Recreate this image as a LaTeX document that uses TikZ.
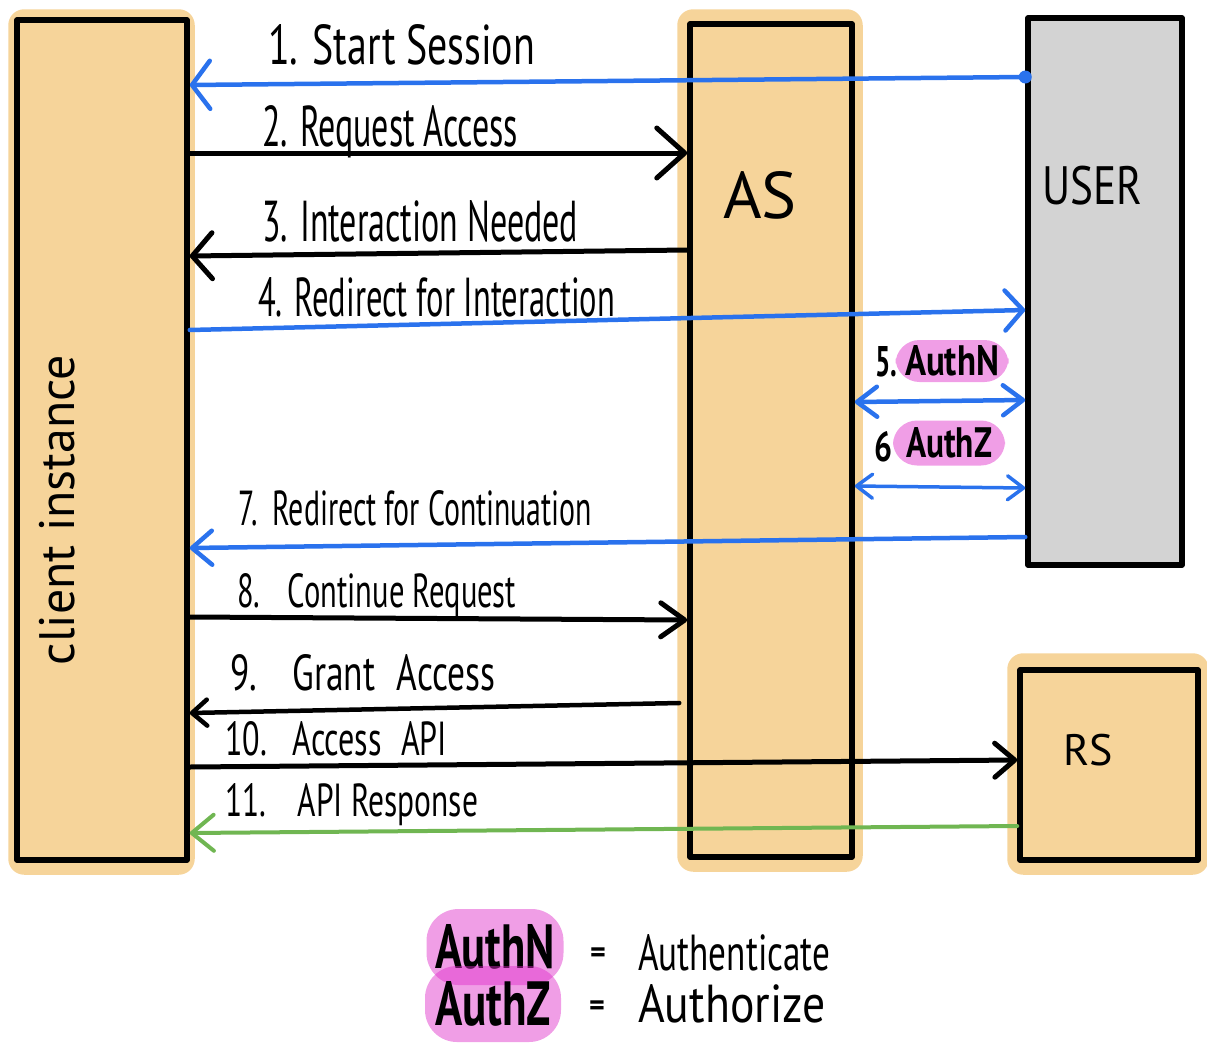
\documentclass[tikz,border=0pt]{standalone}
\usepackage{fontspec}
\setmainfont{PT Sans}
\usepackage{graphicx}
\usetikzlibrary{arrows.meta,backgrounds}

\definecolor{boxorange}{RGB}{246,212,154}
\definecolor{usergray}{RGB}{211,211,211}
\definecolor{flowblue}{RGB}{42,114,237}
\definecolor{flowgreen}{RGB}{112,182,82}
\definecolor{markpink}{RGB}{222,40,200}

% scale a label to a given width, with a common strut
\newcommand{\fitw}[2]{\resizebox{#1}{!}{#2\vphantom{Ap}}}
% scale a label to a given width and total height
\newcommand{\fitwh}[3]{\resizebox{#1}{#2}{#3\vphantom{Ap}}}
% scale a word without descenders to a given width and height
\newcommand{\fitcap}[3]{\resizebox{#1}{#2}{#3}}

\tikzset{
  box/.style={draw=black, line width=5.5pt, rectangle, inner sep=0pt, line join=round},
  halo/.style={fill=boxorange, rounded corners=16pt},
  msg/.style={line width=5pt, line cap=round, line join=round},
  blackmsg/.style={msg, draw=black},
  bluemsg/.style={msg, draw=flowblue, line width=4.5pt},
  greenmsg/.style={msg, draw=flowgreen, line width=4pt},
  barb/.style 2 args={-{Straight Barb[length=#1pt,width=#2pt,round]}},
  dbarb/.style 2 args={{Straight Barb[length=#1pt,width=#2pt,round]}-{Straight Barb[length=#1pt,width=#2pt,round]}},
  lbl/.style={inner sep=0pt, anchor=west, font=\fontsize{40}{44}\selectfont},
  boxlbl/.style={inner sep=0pt},
  blob/.style={fill=markpink, fill opacity=0.45, text opacity=1, rounded corners=24pt, inner sep=0pt},
}

\begin{document}
\begin{tikzpicture}[x=1pt,y=-1pt]
\useasboundingbox (0,0) rectangle (1207,1044);

% parties
\node[box, fill=boxorange, minimum width=170pt, minimum height=840pt] (client) at (102,440) {};
\node[box, fill=boxorange, minimum width=162pt, minimum height=833pt] (as) at (771,440.5) {};
\node[box, fill=usergray, minimum width=154pt, minimum height=547pt] (user) at (1105,291.5) {};
\node[box, fill=boxorange, minimum width=178pt, minimum height=190pt] (rs) at (1109,765) {};

\begin{scope}[on background layer]
  \fill[halo] ([shift={(-6,-8)}]client.north west) rectangle ([shift={(5,12)}]client.south east);
  \fill[halo] ([shift={(-10,-12)}]as.north west) rectangle ([shift={(8,12)}]as.south east);
  \fill[halo] ([shift={(-10,-14)}]rs.north west) rectangle ([shift={(8,12)}]rs.south east);
\end{scope}

% party names
\node[boxlbl, rotate=90] (clientname) at (62,510) {\fitw{310pt}{\fontsize{40}{44}\selectfont client instance}};
\node[boxlbl] (asname) at (760,195) {\fontsize{66}{70}\selectfont AS};
\node[boxlbl] (username) at (1092,186) {\scalebox{0.8}[1]{\fontsize{54}{58}\selectfont USER}};
\node[boxlbl] (rsname) at (1088,750) {\fontsize{44}{48}\selectfont RS};

% messages
\fill[flowblue] (user.west |- 0,77) circle (6.5pt);
\draw[bluemsg, barb={18}{48}] (user.west |- 0,77) -- (client.east |- 0,85);
\draw[blackmsg, barb={28}{50}] (client.east |- 0,153) -- (as.west |- 0,153);
\draw[blackmsg, barb={20}{46}] (as.west |- 0,250) -- (client.east |- 0,256);
\draw[bluemsg, barb={18}{40}] (client.east |- 0,330) -- (user.west |- 0,310);
\draw[bluemsg, dbarb={20}{30}] (as.east |- 0,402) -- (user.west |- 0,400);
\draw[bluemsg, line width=3.5pt, dbarb={16}{24}] (as.east |- 0,486) -- (user.west |- 0,488);
\draw[bluemsg, barb={20}{34}] (user.west |- 0,537) -- (client.east |- 0,548);
\draw[blackmsg, barb={24}{34}] (client.east |- 0,617) -- (as.west |- 0,620);
\draw[blackmsg, line width=4.5pt, barb={15}{26}] ([xshift=-8pt]as.west |- 0,703) -- (client.east |- 0,713);
\draw[blackmsg, barb={20}{34}] (client.east |- 0,767) -- (rs.west |- 0,760);
\draw[greenmsg, barb={22}{36}] (rs.west |- 0,826) -- (client.east |- 0,833);

% message labels
\node[lbl] (m1) at (268,50) {\fitwh{267pt}{40pt}{1. Start Session}};
\node[lbl] (m2) at (262,132) {\fitwh{256pt}{41pt}{2. Request Access}};
\node[lbl] (m3) at (262,227) {\fitwh{316pt}{41pt}{3. Interaction Needed}};
\node[lbl] (m4) at (258,302) {\fitwh{357pt}{39pt}{4. Redirect for Interaction}};
\node[lbl] (m7) at (238,513) {\fitwh{354pt}{35pt}{7.\hspace{0.5em}Redirect for Continuation}};
\node[lbl] (m8) at (237,595) {\fitwh{279pt}{34pt}{8.\hspace{0.9em}Continue Request}};
\node[lbl] (m9) at (230,678) {\fitwh{265pt}{36pt}{9.\hspace{1em}Grant\hspace{0.6em}Access}};
\node[lbl] (m10) at (225,743) {\fitwh{222pt}{34pt}{10.\hspace{0.8em}Access\hspace{0.6em}API}};
\node[lbl] (m11) at (225,805) {\fitwh{253pt}{33pt}{11.\hspace{1em}API Response}};

% authentication / authorization steps
\node[lbl] (m5) at (875,362) {\fitcap{22pt}{30pt}{\bfseries 5.}};
\node[blob, minimum width=113pt, minimum height=42pt] (m5tag) at (952,361) {\fitcap{94pt}{30pt}{\bfseries AuthN}};
\node[lbl] (m6) at (874,447) {\fitcap{18pt}{30pt}{\bfseries 6}};
\node[blob, minimum width=112pt, minimum height=45pt] (m6tag) at (949,443) {\fitcap{86pt}{30pt}{\bfseries AuthZ}};

% legend
\node[blob, minimum width=137pt, minimum height=76pt, rounded corners=32pt] (keyn) at (495,947) {\fitcap{120pt}{44pt}{\bfseries AuthN}};
\node[blob, minimum width=136pt, minimum height=76pt, rounded corners=32pt] (keyz) at (493,1004) {\fitcap{116pt}{44pt}{\bfseries AuthZ}};
\node[boxlbl] (eqn) at (598,955) {\fontsize{30}{34}\selectfont\bfseries =};
\node[boxlbl] (eqz) at (597,1008) {\fontsize{30}{34}\selectfont\bfseries =};
\node[lbl] (keyntext) at (638,953) {\fitcap{192pt}{36pt}{Authenticate}};
\node[lbl] (keyztext) at (638,1004) {\fitcap{187pt}{38pt}{Authorize}};
\end{tikzpicture}
\end{document}
